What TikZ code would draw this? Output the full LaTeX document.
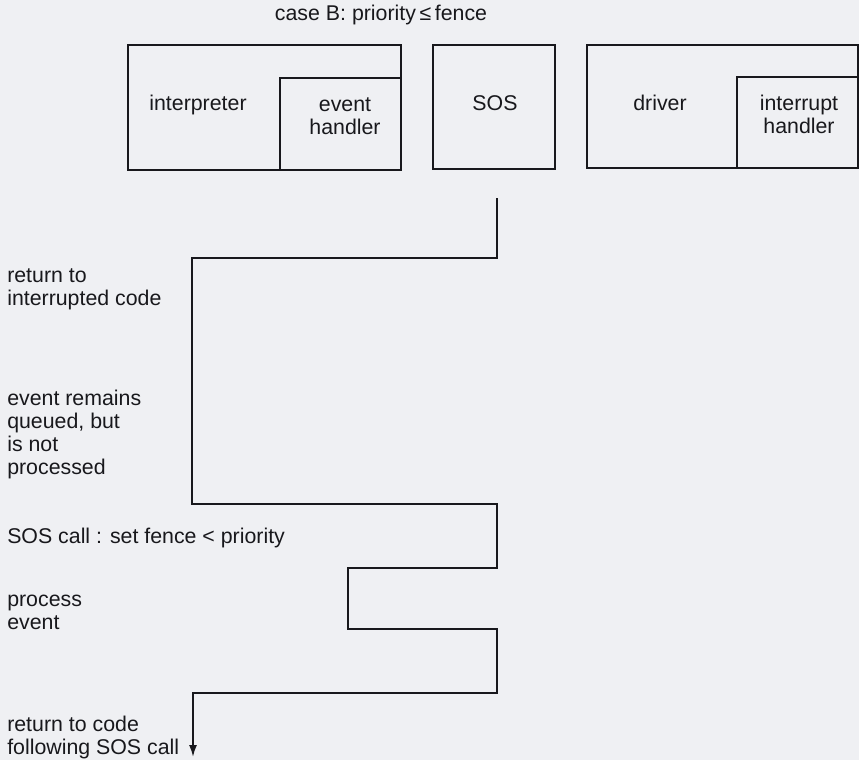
\documentclass[tikz,border=0pt]{standalone}
\usepackage{fontspec}
\setmainfont{Liberation Sans}
\usepackage{xcolor}
\usetikzlibrary{arrows.meta}
\definecolor{papel}{RGB}{239,240,243}
\definecolor{tinta}{RGB}{24,24,28}

\begin{document}
\begin{tikzpicture}[x=0.75pt,y=-0.75pt,
  texto/.style={text=tinta, font=\fontsize{16}{17.25}\selectfont, inner sep=0pt, align=center},
  etiqueta/.style={texto, anchor=west, align=left},
  caja/.style={draw=tinta, line width=1.5pt},
  traza/.style={draw=tinta, line width=1.4pt}]

% Fondo de la página
\fill[papel] (0,0) rectangle (859,760);
\useasboundingbox (0,0) rectangle (859,760);

% Título
\node[texto] (titulo) at (381,15) {case B: priority\,≤\,fence};

% Cajas de los módulos
\draw[caja] (128,45) rectangle (401,170);   % interpreter
\draw[caja] (280,78) rectangle (401,170);   % event handler
\draw[caja] (433,45) rectangle (555,169);   % SOS
\draw[caja] (587,45) rectangle (858,168);   % driver
\draw[caja] (737,77) rectangle (858,168);   % interrupt handler

% Nombres de los módulos
\node[texto] (interp) at (198,105) {interpreter};
\node[texto] (evhand) at (345,116) {event\\handler};
\node[texto] (sos) at (495,103) {SOS};
\node[texto] (driver) at (660,103) {driver};
\node[texto] (inthand) at (799,114) {interrupt\\handler};

% Etiquetas de la izquierda
\node[etiqueta] (ret1) at (7,289) {return to\\interrupted code};
\node[etiqueta] (cola) at (7,434) {event remains\\queued, but\\is not\\processed};
\node[etiqueta] (llamada) at (7,538) {SOS call : set fence < priority};
\node[etiqueta] (proceso) at (7,612) {process\\event};
\node[etiqueta] (ret2) at (7,737) {return to code\\following SOS call};

% Traza del control
\coordinate (inicio) at (497,198);
\coordinate (fin) at (193,757);
\draw[traza, -{Latex[length=9pt,width=6pt]}] (inicio) -- (497,258) -- (192,258)
  -- (192,504) -- (497,504) -- (497,568) -- (348,568) -- (348,629)
  -- (497,629) -- (497,693) -- (193,693) -- (fin);

\end{tikzpicture}
\end{document}
